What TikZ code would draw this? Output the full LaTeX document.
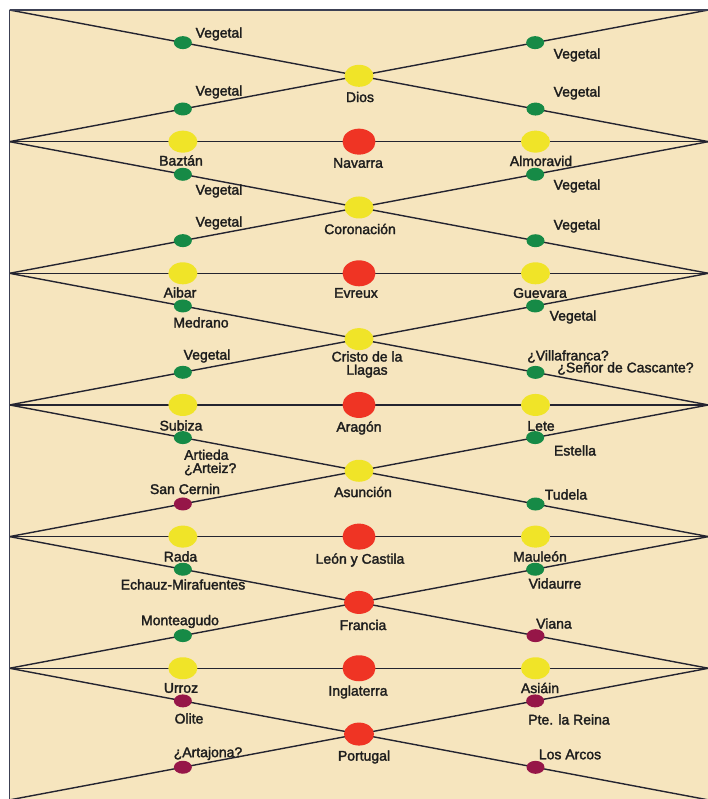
\documentclass[tikz,border=0pt]{standalone}
\usepackage{fontspec}
\setmainfont{Liberation Sans}
\newfontfamily\labfont[FakeBold=2]{Liberation Sans}
\usetikzlibrary{shapes.geometric,calc}
\definecolor{bg}{RGB}{246,229,190}
\definecolor{cyel}{RGB}{240,228,40}
\definecolor{cred}{RGB}{239,52,36}
\definecolor{cgrn}{RGB}{22,138,70}
\definecolor{cmar}{RGB}{150,22,72}
\definecolor{cln}{RGB}{36,36,48}
\definecolor{cfr}{RGB}{60,64,84}
\definecolor{ctx}{RGB}{30,30,30}
\tikzset{
  ln/.style={draw=cln, line width=1.4pt},
  frameline/.style={draw=cfr, line width=1.5pt},
  yel/.style={ellipse, fill=cyel, minimum width=29, minimum height=22, inner sep=0},
  redbig/.style={ellipse, fill=cred, minimum width=33, minimum height=26, inner sep=0},
  redsm/.style={ellipse, fill=cred, minimum width=30, minimum height=23, inner sep=0},
  grn/.style={ellipse, fill=cgrn, minimum width=18, minimum height=13, inner sep=0},
  mar/.style={ellipse, fill=cmar, minimum width=18, minimum height=13, inner sep=0},
  lab/.style={inner sep=0, text=ctx, font=\labfont\fontsize{14}{14}\selectfont},
  labtwo/.style={inner sep=0, text=ctx, font=\labfont\fontsize{14}{13.2}\selectfont}
}
\begin{document}
\begin{tikzpicture}[x=1pt,y=-1pt]
\useasboundingbox (0,0) rectangle (708,799);
\fill[white] (0,0) rectangle (708,799);
\fill[bg] (9,10) rectangle (708,799);
% vertices
\foreach \k in {0,...,6} {
  \coordinate (L\k) at (9.5,{10+131.65*\k});
  \coordinate (R\k) at (708.5,{10+131.65*\k});
}
% diagonal lines
\foreach \k [evaluate=\k as \n using int(\k+1)] in {0,...,5} {
  \draw[ln] (L\k) -- (R\n);
  \draw[ln] (R\k) -- (L\n);
}
% horizontal lines
\foreach \k in {1,...,5} { \draw[ln] (L\k) -- (R\k); }
% frame
\draw[frameline] (L0) -- (R0);
\draw[frameline] (L0) -- (L6);

% ---- band 0 ----
\node[grn] (d0ul) at ($(L0)!0.248!(R1)$) {};
\node[grn] (d0lr) at ($(L0)!0.7525!(R1)$) {};
\node[grn] (d0ur) at ($(R0)!0.248!(L1)$) {};
\node[grn] (d0ll) at ($(R0)!0.752!(L1)$) {};
\node[yel] (c0) at ($(L0)!0.5!(R1)$) {};
% ---- row 1 ----
\node[yel] (h1l) at ($(L1)!0.248!(R1)$) {};
\node[redbig] (h1c) at ($(L1)!0.5!(R1)$) {};
\node[yel] (h1r) at ($(L1)!0.7525!(R1)$) {};
% ---- band 1 ----
\node[grn] (d1ul) at ($(L1)!0.248!(R2)$) {};
\node[grn] (d1lr) at ($(L1)!0.7525!(R2)$) {};
\node[grn] (d1ur) at ($(R1)!0.248!(L2)$) {};
\node[grn] (d1ll) at ($(R1)!0.752!(L2)$) {};
\node[yel] (c1) at ($(L1)!0.5!(R2)$) {};
% ---- row 2 ----
\node[yel] (h2l) at ($(L2)!0.248!(R2)$) {};
\node[redbig] (h2c) at ($(L2)!0.5!(R2)$) {};
\node[yel] (h2r) at ($(L2)!0.7525!(R2)$) {};
% ---- band 2 ----
\node[grn] (d2ul) at ($(L2)!0.248!(R3)$) {};
\node[grn] (d2lr) at ($(L2)!0.7525!(R3)$) {};
\node[grn] (d2ur) at ($(R2)!0.248!(L3)$) {};
\node[grn] (d2ll) at ($(R2)!0.752!(L3)$) {};
\node[yel] (c2) at ($(L2)!0.5!(R3)$) {};
% ---- row 3 ----
\node[yel] (h3l) at ($(L3)!0.248!(R3)$) {};
\node[redbig] (h3c) at ($(L3)!0.5!(R3)$) {};
\node[yel] (h3r) at ($(L3)!0.7525!(R3)$) {};
% ---- band 3 ----
\node[grn] (d3ul) at ($(L3)!0.248!(R4)$) {};
\node[grn] (d3lr) at ($(L3)!0.7525!(R4)$) {};
\node[grn] (d3ur) at ($(R3)!0.248!(L4)$) {};
\node[mar] (d3ll) at ($(R3)!0.752!(L4)$) {};
\node[yel] (c3) at ($(L3)!0.5!(R4)$) {};
% ---- row 4 ----
\node[yel] (h4l) at ($(L4)!0.248!(R4)$) {};
\node[redbig] (h4c) at ($(L4)!0.5!(R4)$) {};
\node[yel] (h4r) at ($(L4)!0.7525!(R4)$) {};
% ---- band 4 ----
\node[grn] (d4ul) at ($(L4)!0.248!(R5)$) {};
\node[mar] (d4lr) at ($(L4)!0.7525!(R5)$) {};
\node[grn] (d4ur) at ($(R4)!0.248!(L5)$) {};
\node[grn] (d4ll) at ($(R4)!0.752!(L5)$) {};
\node[redsm] (c4) at ($(L4)!0.5!(R5)$) {};
% ---- row 5 ----
\node[yel] (h5l) at ($(L5)!0.248!(R5)$) {};
\node[redbig] (h5c) at ($(L5)!0.5!(R5)$) {};
\node[yel] (h5r) at ($(L5)!0.7525!(R5)$) {};
% ---- band 5 ----
\node[mar] (d5ul) at ($(L5)!0.248!(R6)$) {};
\node[mar] (d5lr) at ($(L5)!0.7525!(R6)$) {};
\node[mar] (d5ur) at ($(R5)!0.248!(L6)$) {};
\node[mar] (d5ll) at ($(R5)!0.752!(L6)$) {};
\node[redsm] (c5) at ($(L5)!0.5!(R6)$) {};

% ---- labels ----
\node[lab] (t0ul) at (219,34) {Vegetal};
\node[lab] (t0ur) at (577,55) {Vegetal};
\node[lab] (tc0) at (360,97) {Dios};
\node[lab] (t0ll) at (219,92) {Vegetal};
\node[lab] (t0lr) at (577,93) {Vegetal};

\node[lab] (th1l) at (181,160.5) {Baztán};
\node[lab] (th1c) at (358,163) {Navarra};
\node[lab] (th1r) at (541,161) {Almoravid};

\node[lab] (t1ul) at (219,191) {Vegetal};
\node[lab] (t1ur) at (577,186) {Vegetal};
\node[lab] (tc1) at (360,229) {Coronación};
\node[lab] (t1ll) at (219,223) {Vegetal};
\node[lab] (t1lr) at (577,226) {Vegetal};

\node[lab] (th2l) at (180,292.5) {Aibar};
\node[lab] (th2c) at (356,293) {Evreux};
\node[lab] (th2r) at (540,293) {Guevara};

\node[lab] (t2ul) at (201,322.5) {Medrano};
\node[lab] (t2ur) at (573,317) {Vegetal};
\node[labtwo, align=center] (tc2) at (367,364.5) {Cristo de la\\Llagas};
\node[lab] (t2ll) at (207,356) {Vegetal};
\node[lab] (t2lra) at (568,356.5) {¿Villafranca?};
\node[lab] (t2lrb) at (625.5,368.5) {¿Señor de Cascante?};

\node[lab] (th3l) at (181,425.5) {Subiza};
\node[lab] (th3c) at (359,428) {Aragón};
\node[lab] (th3r) at (541,426) {Lete};

\node[labtwo, align=left, anchor=west] (t3ul) at (184,462.5) {Artieda\\¿Arteiz?};
\node[lab] (t3ur) at (575,450.5) {Estella};
\node[lab] (tc3) at (363,492) {Asunción};
\node[lab] (t3ll) at (185,489) {San Cernin};
\node[lab] (t3lr) at (566,494.5) {Tudela};

\node[lab] (th4l) at (180.5,556.5) {Rada};
\node[lab] (th4c) at (360,560) {León y Castila};
\node[lab] (th4r) at (540,556.5) {Mauleón};

\node[lab] (t4ul) at (183,584.5) {Echauz-Mirafuentes};
\node[lab] (t4ur) at (555,583.5) {Vidaurre};
\node[lab] (tc4) at (363,625) {Francia};
\node[lab] (t4ll) at (180,621.5) {Monteagudo};
\node[lab] (t4lr) at (554,623.5) {Viana};

\node[lab] (th5l) at (181,688) {Urroz};
\node[lab] (th5c) at (358,692) {Inglaterra};
\node[lab] (th5r) at (540,688) {Asiáin};

\node[lab] (t5ul) at (189,718.5) {Olite};
\node[lab] (t5ur) at (569,719.5) {Pte. la Reina};
\node[lab] (tc5) at (364,757) {Portugal};
\node[lab] (t5ll) at (208,753.5) {¿Artajona?};
\node[lab] (t5lr) at (570,754.5) {Los Arcos};
\end{tikzpicture}
\end{document}
